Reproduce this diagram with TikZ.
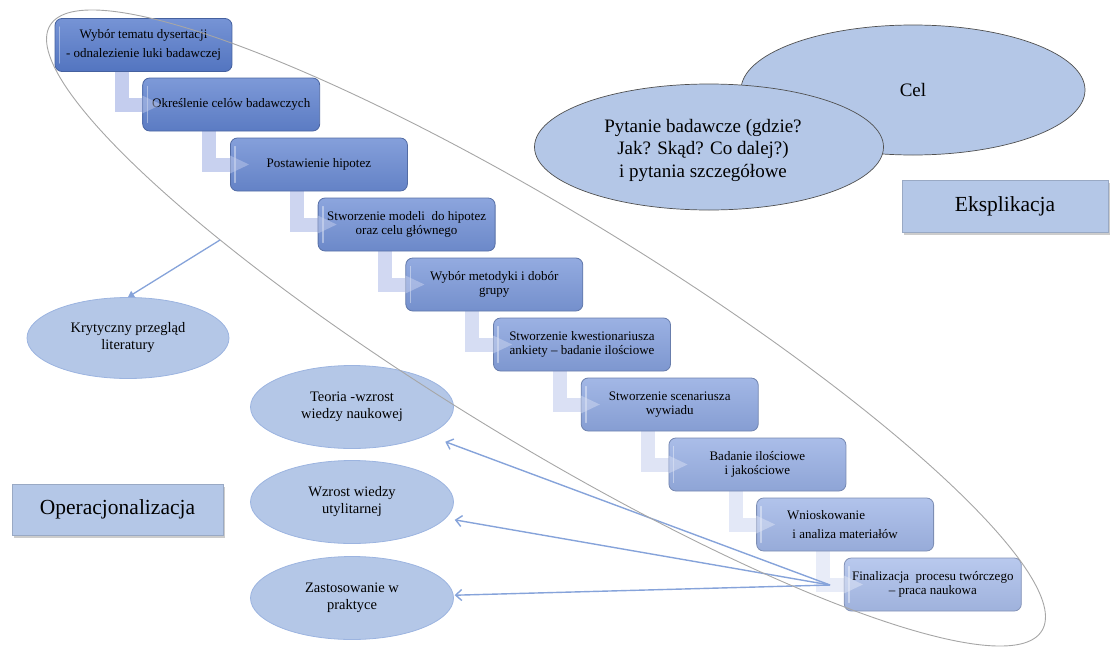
\documentclass[tikz,border=0pt]{standalone}
\usepackage{fontspec}
\setmainfont{Liberation Serif}
\usetikzlibrary{shapes.geometric,arrows.meta,calc,shadows,backgrounds}

\definecolor{boxdark}{HTML}{587CCC}
\definecolor{boxlight}{HTML}{A9BDEA}
\definecolor{connA}{HTML}{C4CDEE}
\definecolor{connB}{HTML}{E8ECF8}
\definecolor{pale}{HTML}{B4C7E7}
\definecolor{paleedge}{HTML}{9CB4E0}
\definecolor{arrowblue}{HTML}{86A3DA}
\definecolor{ringgrey}{HTML}{A6A6A6}
\definecolor{ovaledge}{HTML}{505050}

% step colours, from the first (darkest) to the last (lightest)
\colorlet{s1}{boxlight!0!boxdark}
\colorlet{s2}{boxlight!11!boxdark}
\colorlet{s3}{boxlight!22!boxdark}
\colorlet{s4}{boxlight!33!boxdark}
\colorlet{s5}{boxlight!44!boxdark}
\colorlet{s6}{boxlight!56!boxdark}
\colorlet{s7}{boxlight!67!boxdark}
\colorlet{s8}{boxlight!78!boxdark}
\colorlet{s9}{boxlight!89!boxdark}
\colorlet{s10}{boxlight!100!boxdark}
% connector colours
\colorlet{k1}{connB!0!connA}
\colorlet{k2}{connB!12!connA}
\colorlet{k3}{connB!25!connA}
\colorlet{k4}{connB!37!connA}
\colorlet{k5}{connB!50!connA}
\colorlet{k6}{connB!62!connA}
\colorlet{k7}{connB!75!connA}
\colorlet{k8}{connB!87!connA}
\colorlet{k9}{connB!100!connA}

\tikzset{
  stepbox/.style={rectangle, rounded corners=7pt, minimum width=177pt,
    minimum height=53pt, inner sep=2pt, align=center,
    font=\fontsize{13}{14.5}\selectfont, line width=0.8pt,
    draw=#1!78!black, top color=#1!82!white, bottom color=#1!94!black},
  bigoval/.style={ellipse, fill=pale, draw=ovaledge, line width=0.7pt,
    inner sep=0pt, align=center, font=\fontsize{19}{22.5}\selectfont},
  ovaltext/.style={inner sep=0pt, align=center, font=\fontsize{19}{22.5}\selectfont},
  smalloval/.style={ellipse, fill=pale, draw=paleedge, line width=0.8pt,
    minimum width=203pt, minimum height=83pt, inner sep=0pt, align=center,
    font=\fontsize{14.5}{17}\selectfont},
  labelbox/.style={rectangle, fill=pale, draw=pale!85!black, line width=0.4pt,
    inner sep=0pt, font=\fontsize{21.5}{24}\selectfont,
    drop shadow={shadow xshift=1.5pt, shadow yshift=-2.5pt, opacity=0.4}},
  bend/.style={line width=14pt, draw=#1},
  fanarrow/.style={draw=arrowblue, line width=1.4pt,
    -{Straight Barb[length=6pt,width=11pt,line width=1.4pt]}},
  litarrow/.style={draw=arrowblue, line width=1.3pt,
    -{Triangle[length=6pt,width=7pt]}},
}

\begin{document}
\begin{tikzpicture}[x=1pt,y=-1pt]
\useasboundingbox (0,0) rectangle (1110,648);

% ---------- explication side ----------
\node[bigoval, minimum width=344pt, minimum height=130pt] (cel) at (913,90) {Cel};
\node[bigoval, minimum width=349pt, minimum height=126pt] (pyt) at (709,147) {};
\node[ovaltext] (pyttext) at (703,150)
  {Pytanie badawcze (gdzie?\\Jak? Skąd? Co dalej?)\\i pytania szczegółowe};
\node[labelbox, minimum width=206pt, minimum height=52pt] (eks) at (1005,206) {Eksplikacja};

% ---------- operationalisation side ----------
\node[labelbox, minimum width=211pt, minimum height=51pt] (ope) at (117.5,509.5) {Operacjonalizacja};
\node[smalloval, minimum width=202pt, minimum height=81pt] (kryt) at (128,338)
  {Krytyczny przegląd\\literatury};
\node[smalloval] (teoria) at (352,407) {Teoria -wzrost\\wiedzy naukowej};
\node[smalloval] (wzrost) at (352,502) {Wzrost wiedzy\\utylitarnej};
\node[smalloval] (zast) at (352,598) {Zastosowanie w\\praktyce};

% ---------- research steps ----------
\node[stepbox=s1, font=\fontsize{13}{19}\selectfont] (b1) at (143.5,45)
  {Wybór tematu dysertacji\\- odnalezienie luki badawczej};
\node[stepbox=s2] (b2) at (231.2,104.5) {Określenie celów badawczych};
\node[stepbox=s3] (b3) at (318.9,164.5) {Postawienie hipotez};
\node[stepbox=s4] (b4) at (406.6,224.5) {Stworzenie modeli~ do hipotez\\oraz celu głównego};
\node[stepbox=s5] (b5) at (494.3,284.5) {Wybór metodyki i dobór\\grupy};
\node[stepbox=s6] (b6) at (582.0,344.5) {Stworzenie kwestionariusza\\ankiety -- badanie ilościowe};
\node[stepbox=s7] (b7) at (669.7,404.5) {Stworzenie scenariusza\\wywiadu};
\node[stepbox=s8] (b8) at (757.4,464.5) {Badanie ilościowe\\i jakościowe};
\node[stepbox=s9, font=\fontsize{13}{19}\selectfont] (b9) at (845.1,524.5)
  {Wnioskowanie\hspace*{38pt}\\i analiza materiałów};
\node[stepbox=s10] (b10) at (932.8,584.5) {Finalizacja~ procesu twórczego\\-- praca naukowa};

% glossy edge on each step
\foreach \b in {b1,b2,b3,b4,b5,b6,b7,b8,b9,b10}
  \draw[white, opacity=0.4, line width=1.6pt, line cap=round]
    ($(\b.north west)+(5,9)$) -- ($(\b.south west)+(5,-9)$);

% bent connectors between the steps
\begin{scope}[on background layer]
\foreach \a/\b/\c in {b1/b2/k1,b2/b3/k2,b3/b4/k3,b4/b5/k4,b5/b6/k5,
                      b6/b7/k6,b7/b8/k7,b8/b9/k8,b9/b10/k9}
  \draw[bend=\c] ($(\a.south west)+(67,0)$) |- (\b.west);
\end{scope}
% faint arrow heads showing through the next step
\foreach \b/\c in {b2/k1,b3/k2,b4/k3,b5/k4,b6/k5,b7/k6,b8/k7,b9/k8,b10/k9}
  \fill[\c, opacity=0.45] ($(\b.west)+(0,-9)$) -- ($(\b.west)+(19,0)$) -- ($(\b.west)+(0,9)$) -- cycle;

% ---------- arrows to the outcomes ----------
\coordinate (fan) at (830,585);
\draw[fanarrow, shorten >=19pt] (fan) -- (teoria);
\draw[fanarrow, shorten >=9pt] (fan) -- (wzrost);
\draw[fanarrow, shorten >=1pt] (fan) -- (zast);

% ---------- outline round the whole process ----------
\node[draw=ringgrey, line width=0.9pt, ellipse, minimum width=1162pt,
      minimum height=228pt, inner sep=0pt, rotate=-31.4] (ring) at (546,328) {};
\coordinate (litstart) at (220,240);
\draw[litarrow] (litstart) -- (kryt.north);
\end{tikzpicture}
\end{document}
